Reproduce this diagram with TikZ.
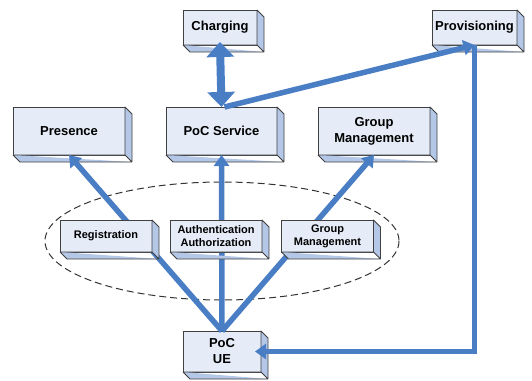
\documentclass[tikz,border=0pt]{standalone}
\usepackage{fontspec}
\setmainfont{Liberation Sans}
\usetikzlibrary{arrows.meta,calc}
\definecolor{boxfront}{RGB}{229,235,247}
\definecolor{boxside}{RGB}{180,199,231}
\definecolor{boxline}{RGB}{64,64,64}
\definecolor{flow}{RGB}{74,126,196}
\tikzset{
  box/.style={draw=boxline, fill=boxfront, thick, align=center, inner sep=1pt, outer sep=0pt,
    font=\bfseries\fontsize{13}{16}\selectfont},
  smallbox/.style={box, minimum width=92pt, minimum height=32pt,
    font=\bfseries\fontsize{11}{13}\selectfont},
  side/.style={draw=boxline, fill=boxside, thick, line join=round},
  link/.style={draw=flow, line width=5.5pt, -{Triangle[width=15pt,length=11pt]}},
}
\def\boxdp{7}

\begin{document}
\begin{tikzpicture}[x=1pt, y=-1pt]
\useasboundingbox (0,0) rectangle (532,380);
%
\draw[dash pattern=on 7pt off 4pt, line width=1pt, black!80] (222,241) ellipse [x radius=177, y radius=59];
%
       \node [box, minimum width=74pt, minimum height=35pt] at (220,27.5) (charging) {Charging};
          \node [box, minimum width=85pt, minimum height=35pt] at (474.5,27.5) (prov) {Provisioning};
             \node [box, minimum width=112pt, minimum height=48pt] at (69,131) (pres) {Presence};
              \node [box, minimum width=111pt, minimum height=48pt] at (221.5,131) (svc) {PoC Service};
               \node [box, minimum width=112pt, minimum height=48pt] at (374,131) (gm) {Group\\Management};
                \node [box, minimum width=78pt, minimum height=41pt] at (222,351.5) (ue) {PoC\\UE};
%
\foreach \n in {charging,prov,pres,svc,gm,ue}
  \filldraw[side] (\n.south west) -- ++(\boxdp,\boxdp) -| ($(\n.north east)+(\boxdp,\boxdp)$) -- (\n.north east) -- (\n.south east) -- ++(\boxdp,\boxdp) (\n.south east) -- (\n.south west);
%
%
\path[link] (ue.north) -- (pres.south);
\path[link] (ue.north) -- (svc.south);
\path[link] (ue.north) -- (gm.south);
\path[link, line width=8pt, {Triangle[width=27pt,length=15pt]}-{Triangle[width=27pt,length=15pt]}, shorten <=-3pt] (charging.south) -- (svc.north);
\path[link] ([xshift=3pt]svc.north) -- (prov.south);
\path[link, shorten >=-6pt] (prov.south) |- (ue.east);
%
             \node [smallbox] at (106,236) (reg) {Registration};
              \node [smallbox] at (216,236) (auth) {Authentication\\Authorization};
               \node [smallbox] at (327.5,236) (gms) {Group\\Management};
%
\foreach \n in {reg,auth,gms}
  \filldraw[side] (\n.south west) -- ++(\boxdp,\boxdp) -| ($(\n.north east)+(\boxdp,\boxdp)$) -- (\n.north east) -- (\n.south east) -- ++(\boxdp,\boxdp) (\n.south east) -- (\n.south west);

\end{tikzpicture}
\end{document}
